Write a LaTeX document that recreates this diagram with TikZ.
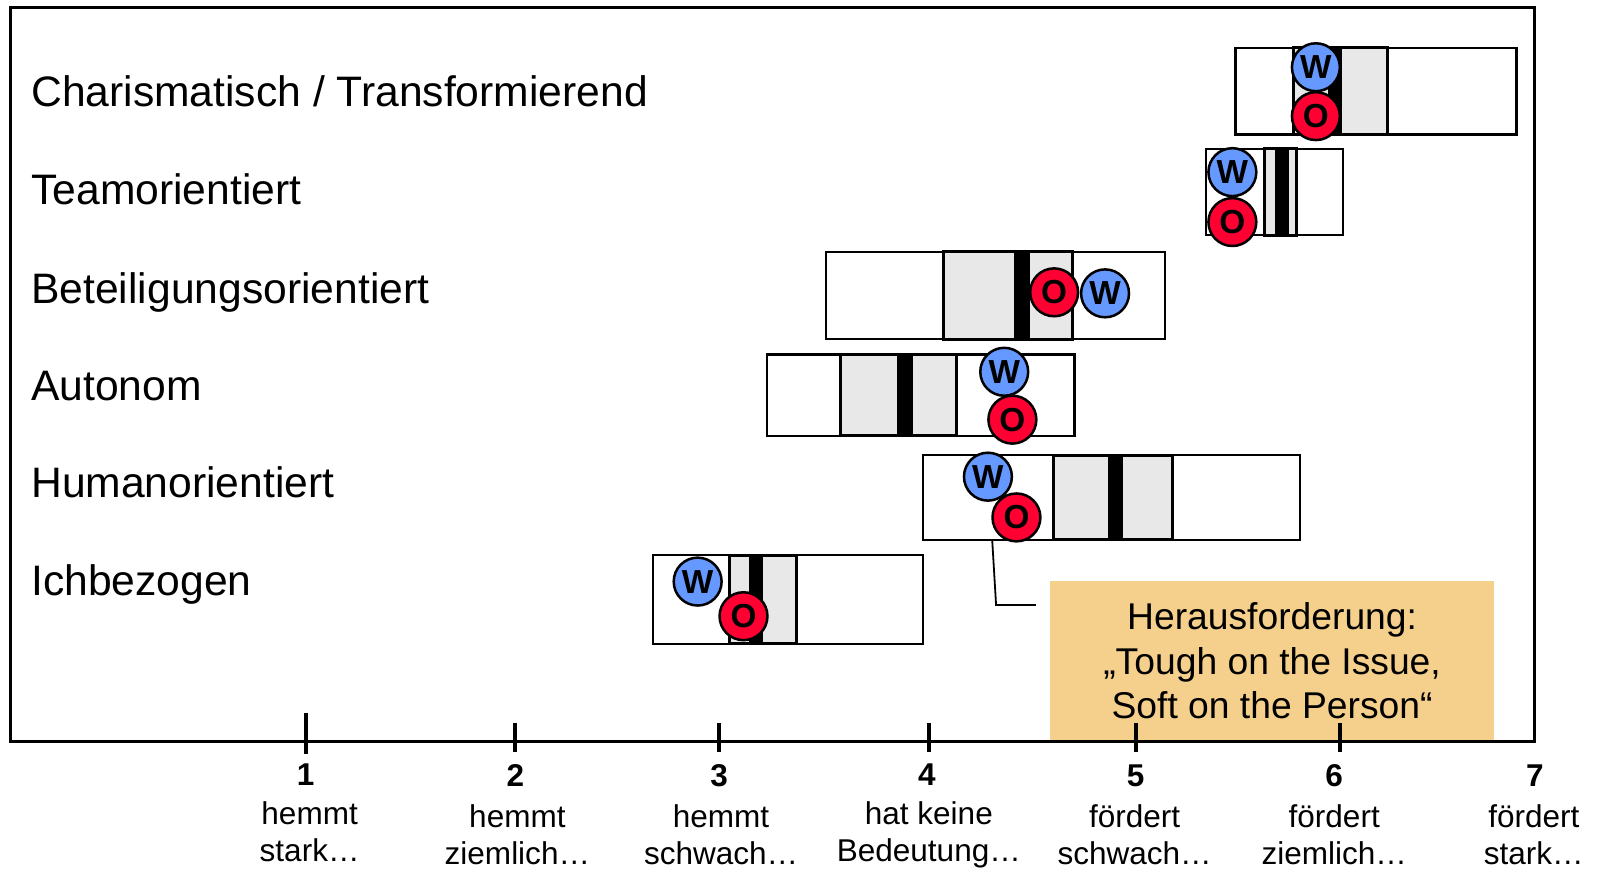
\documentclass[tikz,border=0pt]{standalone}
\usepackage{fontspec}
\setmainfont{Liberation Sans}
\definecolor{wblue}{HTML}{6699FF}
\definecolor{ored}{HTML}{FF0033}
\definecolor{rangegray}{HTML}{E8E8E8}
\definecolor{calloutfill}{HTML}{F5D08C}
\begin{document}
\begin{tikzpicture}[x=0.01cm, y=-0.01cm,
  w node/.style={circle,draw,fill=wblue,line width=0.7pt,minimum size=0.47cm,inner sep=0pt,font=\fontsize{9.3}{9}\selectfont\bfseries},
  o node/.style={circle,draw,fill=ored,line width=0.7pt,minimum size=0.47cm,inner sep=0pt,font=\fontsize{9.3}{9}\selectfont\bfseries},
  outer box/.style={draw,fill=white,line width=0.6pt},
  inner box/.style={draw,fill=rangegray,line width=0.85pt},
  mean bar/.style={fill=black},
  tick/.style={line width=1.1pt},
  callout/.style={fill=calloutfill,align=center,inner sep=0pt,font=\fontsize{10.4}{12.4}\selectfont}]
\useasboundingbox (0,0) rectangle (1568,853);
\begin{scope}[every node/.style={anchor=base west,inner sep=0pt,font=\fontsize{11.9}{14}\selectfont}]
\node (lcharis) at (30,105) {Charismatisch / Transformierend};
\node (lteam) at (30,201) {Teamorientiert};
\node (lbeteil) at (30,298) {Beteiligungsorientiert};
\node (lauto) at (30,393) {Autonom};
\node (lhuman) at (30,488) {Humanorientiert};
\node (lich) at (30,585) {Ichbezogen};
\end{scope}
% callout
\node[callout,minimum width=4.36cm,minimum height=1.58cm] (callout) at (1249,649) {Herausforderung:\\„Tough on the Issue,\\Soft on the Person“};
\coordinate (cfoot) at (1017,594);
\coordinate (ctip) at (974,527);
\draw[line width=0.5pt] (cfoot) -- (978,594) -- (ctip);
% frame and scale
\draw[line width=0.8pt] (10,7) rectangle (1507,728);
\draw[tick] (300,700) -- (300,740);
\draw[tick] (506,710) -- (506,738);
\draw[tick] (706,710) -- (706,738);
\draw[tick] (912,710) -- (912,738);
\draw[tick] (1115,710) -- (1115,738);
\draw[tick] (1316,710) -- (1316,738);
\begin{scope}[every node/.style={anchor=base,inner sep=0pt,font=\fontsize{8.8}{10}\selectfont\bfseries}]
\node (n1) at (300,771) {1};
\node (n2) at (506,772) {2};
\node (n3) at (706,772) {3};
\node (n4) at (910,771) {4};
\node (n5) at (1115,772) {5};
\node (n6) at (1310,772) {6};
\node (n7) at (1507,772) {7};
\end{scope}
\begin{scope}[every node/.style={anchor=north,align=center,inner sep=0pt,font=\fontsize{8.8}{10.3}\selectfont}]
\node (s1) at (304,786) {hemmt\\stark…};
\node (s2) at (508,789) {hemmt\\ziemlich…};
\node (s3) at (708,789) {hemmt\\schwach…};
\node (s4) at (912,786) {hat keine\\Bedeutung…};
\node (s5) at (1114,789) {fördert\\schwach…};
\node (s6) at (1310,789) {fördert\\ziemlich…};
\node (s7) at (1506,789) {fördert\\stark…};
\end{scope}
% Charismatisch
\draw[outer box] (1213,47) rectangle (1489,132);
\draw[inner box] (1270,47) rectangle (1362,132);
\fill[mean bar] (1304,47) rectangle (1318,132);
\node[w node] (w1) at (1292,66) {W};
\node[o node] (o1) at (1292,114) {O};
% Teamorientiert
\draw[outer box] (1184,146) rectangle (1319,231);
\draw[inner box] (1242,146) rectangle (1273,231);
\fill[mean bar] (1252,146) rectangle (1266,231);
\node[w node] (w2) at (1210,169) {W};
\node[o node] (o2) at (1210,218) {O};
% Beteiligungsorientiert
\draw[outer box] (811,247) rectangle (1144,333);
\draw[inner box] (926,247) rectangle (1053,333);
\fill[mean bar] (996,247) rectangle (1011,333);
\node[w node] (w3) at (1085,288) {W};
\node[o node] (o3) at (1035,287) {O};
% Autonom
\draw[outer box] (753,348) rectangle (1055,428);
\draw[inner box] (825,348) rectangle (939,428);
\fill[mean bar] (881,348) rectangle (896,428);
\node[w node] (w4) at (986,365) {W};
\node[o node] (o4) at (994,412) {O};
% Humanorientiert
\draw[outer box] (906,447) rectangle (1276,530);
\draw[inner box] (1034,447) rectangle (1151,530);
\fill[mean bar] (1088,447) rectangle (1103,530);
\node[w node] (w5) at (970,468) {W};
\node[o node] (o5) at (998,508) {O};
% Ichbezogen
\draw[outer box] (641,545) rectangle (906,632);
\draw[inner box] (716,545) rectangle (782,632);
\fill[mean bar] (735,545) rectangle (749,632);
\node[w node] (w6) at (685,571) {W};
\node[o node] (o6) at (730,605) {O};
\end{tikzpicture}
\end{document}
